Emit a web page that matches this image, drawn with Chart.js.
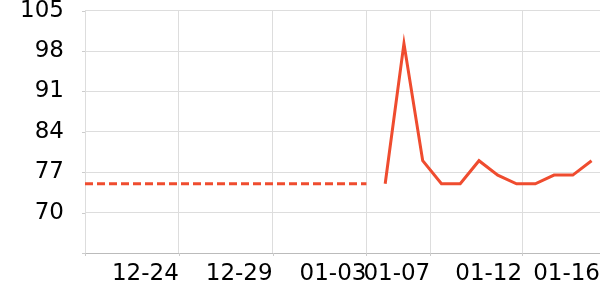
<!DOCTYPE html>
<html>
<head>
<meta charset="utf-8">
<script src="https://cdn.jsdelivr.net/npm/chart.js@4/dist/chart.umd.min.js"></script>
<style>
  html, body { margin: 0; padding: 0; background: #fff; }
  #wrap { width: 600px; height: 300px; }
</style>
</head>
<body>
<div id="wrap"><canvas id="trendChart"></canvas></div>
<script>
// day positions of each point along the x axis
const historyDays = [0, 1, 2, 3, 4, 5, 6, 7, 8, 9, 10, 11, 12, 13, 14, 15];
const historyValues = [75, 75, 75, 75, 75, 75, 75, 75, 75, 75, 75, 75, 75, 75, 75, 75];

const recentDays = [16, 17, 18, 19, 20, 21, 22, 23, 24, 25, 26, 27];
const recentValues = [75, 99.3, 79, 75, 75, 79, 76.5, 75, 75, 76.5, 76.5, 79];

// x ticks (day position + label), y ticks
const xTickDays = [0, 5, 10, 15, 18.4, 23.3, 27.45];
const xTickLabels = ["", "12-24", "12-29", "01-03", "01-07", "01-12", "01-16"];
const yTicks = [63, 70, 77, 84, 91, 98, 105];

const lineColor = "#ef4c2f";

function toPoints(xs, ys) {
    return xs.map((x, i) => ({ x: x, y: ys[i] }));
}

// small tick marks under the axes (chart.js draws them as long as tickLength)
const shortTicks = {
    id: "shortTicks",
    afterDraw(chart) {
        const { ctx, chartArea, scales } = chart;
        ctx.save();
        ctx.strokeStyle = "#cccccc";
        ctx.lineWidth = 1;
        ctx.beginPath();
        scales.x.ticks.forEach(t => {
            const x = Math.round(scales.x.getPixelForValue(t.value)) + 0.5;
            ctx.moveTo(x, chartArea.bottom);
            ctx.lineTo(x, chartArea.bottom + 3);
        });
        scales.y.ticks.forEach(t => {
            const y = Math.round(scales.y.getPixelForValue(t.value)) + 0.5;
            ctx.moveTo(chartArea.left - 3, y);
            ctx.lineTo(chartArea.left, y);
        });
        ctx.stroke();
        ctx.restore();
    }
};

new Chart(document.getElementById("trendChart").getContext("2d"), {
    type: "line",
    data: {
        datasets: [{
            data: toPoints(historyDays, historyValues),
            borderColor: lineColor,
            borderWidth: 3,
            borderDash: [8, 4],
            pointRadius: 0,
            tension: 0
        }, {
            data: toPoints(recentDays, recentValues),
            borderColor: lineColor,
            borderWidth: 3,
            pointRadius: 0,
            tension: 0
        }]
    },
    options: {
        responsive: true,
        maintainAspectRatio: false,
        animation: false,
        layout: { padding: 0 },
        plugins: { legend: { display: false }, tooltip: { enabled: false } },
        scales: {
            x: {
                type: "linear",
                min: xTickDays[0],
                max: xTickDays[xTickDays.length - 1],
                afterBuildTicks: (scale) => {
                    scale.ticks = xTickDays.map(v => ({ value: v }));
                },
                afterFit: (scale) => { scale.height = 47; },
                ticks: {
                    autoSkip: false,
                    maxRotation: 0,
                    align: "end",
                    padding: 0,
                    color: "#000",
                    font: { family: "DejaVu Sans", size: 23, lineHeight: 0.93 },
                    callback: (value, index) => xTickLabels[index]
                },
                grid: { color: "#dddddd", tickLength: 10, tickColor: "rgba(0,0,0,0)" },
                border: { color: "#bbbbbb" }
            },
            y: {
                min: yTicks[0],
                max: yTicks[yTicks.length - 1],
                afterBuildTicks: (scale) => {
                    scale.ticks = yTicks.map(v => ({ value: v }));
                },
                afterFit: (scale) => { scale.width = 85; },
                ticks: {
                    padding: 0,
                    color: "#000",
                    font: { family: "DejaVu Sans", size: 23, lineHeight: 0.93 },
                    callback: (value) => value === yTicks[0] ? "" : value
                },
                grid: { color: "#dddddd", tickLength: 21, tickColor: "rgba(0,0,0,0)" },
                border: { color: "#dddddd" }
            }
        }
    },
    plugins: [shortTicks]
});
</script>
</body>
</html>
